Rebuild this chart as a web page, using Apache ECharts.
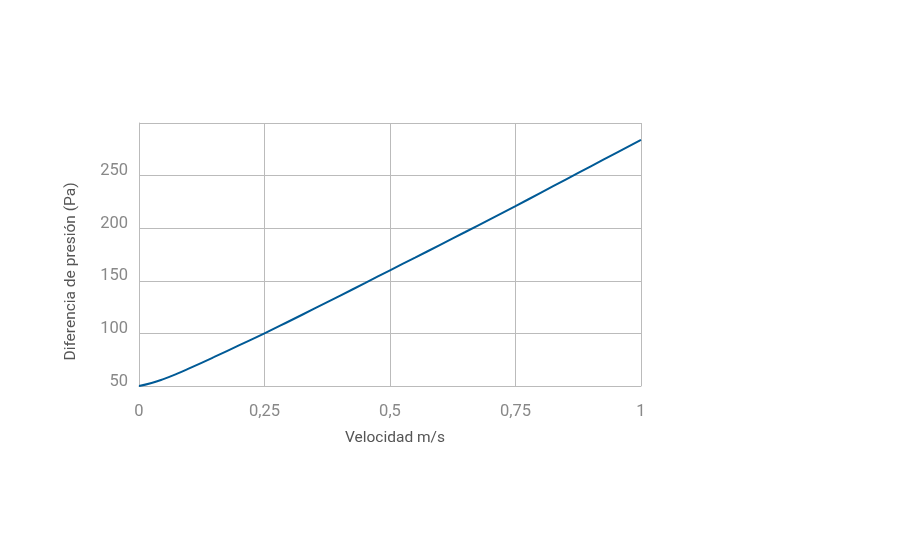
<!DOCTYPE html>
<html>
<head>
<meta charset="utf-8">
<script src="https://cdn.jsdelivr.net/npm/echarts@6/dist/echarts.min.js"></script>
<style>html,body{margin:0;padding:0;background:#fff}#c{width:900px;height:550px}</style>
</head>
<body>
<div id="c"></div>
<script>
var velocity = [0, 0.025, 0.05, 0.075, 0.1, 0.15, 0.2, 0.25, 0.3, 0.35, 0.4, 0.45, 0.5, 0.55, 0.6, 0.65, 0.7, 0.75, 0.8, 0.85, 0.9, 0.95, 1];
var pressure = [50, 52.8, 56.8, 61.5, 66.7, 77.6, 88.8, 100, 111.8, 123.7, 135.7, 147.8, 160, 172, 184.2, 196.4, 208.7, 221, 233.6, 246.2, 258.8, 271.4, 284];
var xTitle = 'Velocidad m/s';
var yTitle = 'Diferencia de presión (Pa)';

var chart = echarts.init(document.getElementById('c'), null, {renderer: 'canvas'});
var font = 'Roboto, "DejaVu Sans", sans-serif';
chart.setOption({
  animation: false,
  backgroundColor: '#fff',
  grid: {left: 139, right: 259, top: 123, bottom: 164, containLabel: false},
  xAxis: {
    type: 'value', min: 0, max: 1, interval: 0.25,
    name: xTitle, nameLocation: 'middle', nameGap: 44,
    nameTextStyle: {color: '#555', fontSize: 15.5, fontFamily: font, padding: [0, 0, 0, 10]},
    axisLine: {show: true, lineStyle: {color: '#bbb', width: 1}},
    axisTick: {show: false},
    splitLine: {show: true, lineStyle: {color: '#bbb', width: 1}},
    axisLabel: {color: '#888', fontSize: 16.5, fontFamily: font, margin: 17,
      formatter: function (v) { return String(v).replace('.', ','); }}
  },
  yAxis: {
    type: 'value', min: 50, max: 300, interval: 50,
    name: yTitle, nameLocation: 'middle', nameGap: 60, nameRotate: 90,
    nameTextStyle: {color: '#555', fontSize: 15.5, fontFamily: font, padding: [0, 34, 0, 0]},
    axisLine: {show: true, lineStyle: {color: '#bbb', width: 1}},
    axisTick: {show: false},
    splitLine: {show: true, lineStyle: {color: '#bbb', width: 1}},
    axisLabel: {color: '#888', fontSize: 16.5, fontFamily: font, margin: 11, showMaxLabel: false,
      verticalAlign: 'bottom', lineHeight: 9}
  },
  series: [{
    type: 'line',
    data: velocity.map(function (v, i) { return [v, pressure[i]]; }),
    smooth: true,
    showSymbol: false,
    lineStyle: {color: '#005a96', width: 2},
    itemStyle: {color: '#005a96'}
  }]
});
</script>
</body>
</html>
